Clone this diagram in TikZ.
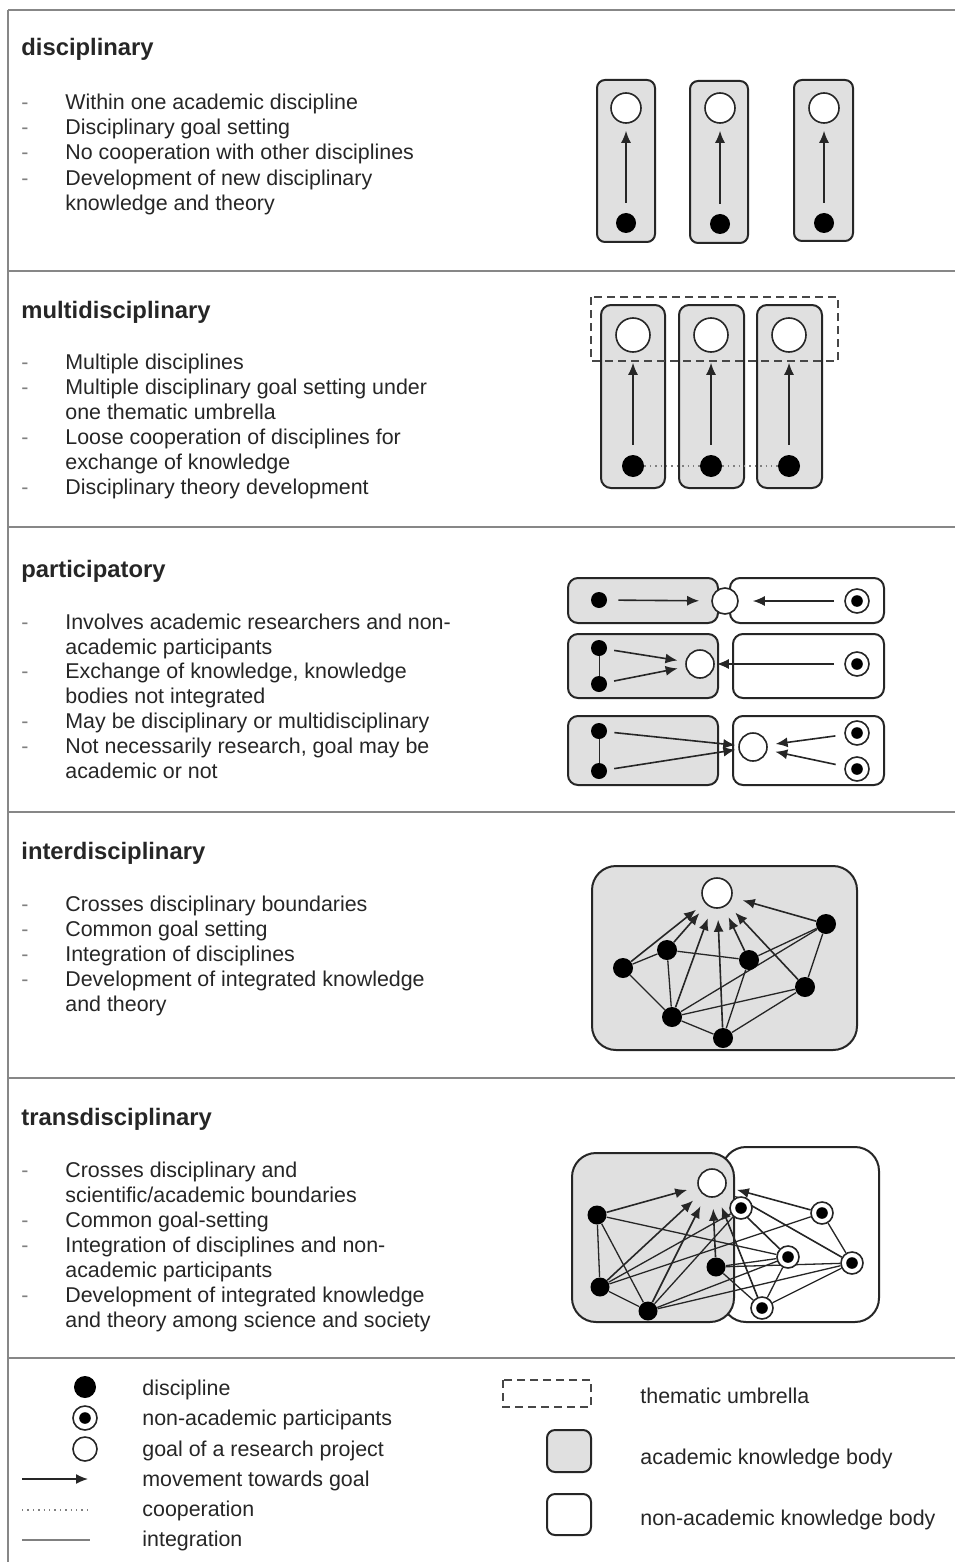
\documentclass[tikz,border=0pt]{standalone}
\usepackage{fontspec}
\setmainfont{Liberation Sans}
\usetikzlibrary{arrows.meta}
\definecolor{boxgray}{RGB}{224,224,224}
\definecolor{ink}{RGB}{38,38,38}
\definecolor{rulecol}{RGB}{135,135,135}
\pgfdeclarelayer{boxes}
\pgfdeclarelayer{edges}
\pgfsetlayers{boxes,edges,main}
\tikzset{
  txt/.style={anchor=base west, inner sep=0pt, font=\fontsize{10.7}{12.5}\selectfont, text=ink},
  ttl/.style={anchor=base west, inner sep=0pt, font=\fontsize{11.9}{14}\selectfont\bfseries, text=ink},
  dsh/.style={anchor=base west, inner sep=0pt, font=\fontsize{10.7}{12.5}\selectfont, text=gray},
  acad/.style={draw=ink, fill=boxgray, line width=1pt},
  nonacad/.style={draw=ink, fill=white, line width=1pt},
  goal/.style={circle, draw=ink, fill=white, line width=0.8pt, inner sep=0pt},
  disc/.style={circle, fill=black, inner sep=0pt},
  partic/.style={circle, draw=ink, fill=white, line width=0.8pt, inner sep=0pt,
     path picture={\fill[black] (path picture bounding box.center) circle (2.9pt);}},
  mv/.style={-{Latex[length=6pt,width=5pt]}, draw=ink, line width=0.8pt},
  integ/.style={draw=ink, line width=0.65pt},
  coop/.style={draw=gray, dotted, line width=0.7pt},
  umb/.style={draw=ink!85, dash pattern=on 4pt off 2.5pt, line width=1.1pt},
  divider/.style={draw=rulecol, line width=1pt}
}
\begin{document}
\begin{tikzpicture}[x=0.5pt, y=-0.5pt]
\useasboundingbox (0,0) rectangle (955,1562);

% ---------------- boxes ----------------
\begin{pgfonlayer}{boxes}
\fill[white] (0,0) rectangle (955,1562);
\draw[acad, rounded corners=4pt] (597,80) rectangle (655,242);
\draw[acad, rounded corners=4pt] (690,81) rectangle (748,243);
\draw[acad, rounded corners=4pt] (794,80) rectangle (853,241);

\draw[acad, rounded corners=5pt] (601,305) rectangle (665,488);
\draw[acad, rounded corners=5pt] (679,305) rectangle (744,488);
\draw[acad, rounded corners=5pt] (757,305) rectangle (822,488);

\draw[acad, rounded corners=5pt] (568,578) rectangle (718,623);
\draw[nonacad, rounded corners=5pt] (730,578) rectangle (884,623);
\draw[acad, rounded corners=5pt] (568,634) rectangle (718,698);
\draw[nonacad, rounded corners=5pt] (733,634) rectangle (884,698);
\draw[acad, rounded corners=5pt] (568,716) rectangle (718,785);
\draw[nonacad, rounded corners=5pt] (733,716) rectangle (884,785);

\draw[acad, rounded corners=12pt] (592,866) rectangle (857,1050);

\draw[nonacad, rounded corners=12pt] (722,1147) rectangle (879,1322);
\draw[acad, rounded corners=12pt] (572,1153) rectangle (734,1322);

\draw[acad, rounded corners=4pt] (547,1430) rectangle (591,1472);
\draw[nonacad, rounded corners=4pt] (547,1494) rectangle (591,1535);
\end{pgfonlayer}

% frame and dividers
\draw[divider] (8,10) -- (955,10);
\draw[divider] (8,10) -- (8,1562);
\foreach \yy in {271,527,812,1078,1358} \draw[divider] (8,\yy) -- (955,\yy);

% ---------------- texts ----------------
\node[ttl] (t1) at (21,56) {disciplinary};
\node[dsh] (s1d1) at (21,109.5) {-};
\node[txt] (s1l1) at (65,109.5) {Within one academic discipline};
\node[dsh] (s1d2) at (21,134.5) {-};
\node[txt] (s1l2) at (65,134.5) {Disciplinary goal setting};
\node[dsh] (s1d3) at (21,159.5) {-};
\node[txt] (s1l3) at (65,159.5) {No cooperation with other disciplines};
\node[dsh] (s1d4) at (21,185.5) {-};
\node[txt] (s1l4) at (65,185.5) {Development of new disciplinary};
\node[txt] (s1l5) at (65,210.5) {knowledge and theory};

\node[ttl] (t2) at (21,318) {multidisciplinary};
\node[dsh] (s2d1) at (21,369.5) {-};
\node[txt] (s2l1) at (65,369.5) {Multiple disciplines};
\node[dsh] (s2d2) at (21,394.5) {-};
\node[txt] (s2l2) at (65,394.5) {Multiple disciplinary goal setting under};
\node[txt] (s2l3) at (65,419.5) {one thematic umbrella};
\node[dsh] (s2d3) at (21,444.5) {-};
\node[txt] (s2l4) at (65,444.5) {Loose cooperation of disciplines for};
\node[txt] (s2l5) at (65,469.5) {exchange of knowledge};
\node[dsh] (s2d4) at (21,494.5) {-};
\node[txt] (s2l6) at (65,494.5) {Disciplinary theory development};

\node[ttl] (t3) at (21,577) {participatory};
\node[dsh] (s3d1) at (21,629.5) {-};
\node[txt] (s3l1) at (65,629.5) {Involves academic researchers and non-};
\node[txt] (s3l2) at (65,654.5) {academic participants};
\node[dsh] (s3d2) at (21,678.5) {-};
\node[txt] (s3l3) at (65,678.5) {Exchange of knowledge, knowledge};
\node[txt] (s3l4) at (65,703.5) {bodies not integrated};
\node[dsh] (s3d3) at (21,728.5) {-};
\node[txt] (s3l5) at (65,728.5) {May be disciplinary or multidisciplinary};
\node[dsh] (s3d4) at (21,753.5) {-};
\node[txt] (s3l6) at (65,753.5) {Not necessarily research, goal may be};
\node[txt] (s3l7) at (65,778.5) {academic or not};

\node[ttl] (t4) at (21,859) {interdisciplinary};
\node[dsh] (s4d1) at (21,911.5) {-};
\node[txt] (s4l1) at (65,911.5) {Crosses disciplinary boundaries};
\node[dsh] (s4d2) at (21,936.5) {-};
\node[txt] (s4l2) at (65,936.5) {Common goal setting};
\node[dsh] (s4d3) at (21,961.5) {-};
\node[txt] (s4l3) at (65,961.5) {Integration of disciplines};
\node[dsh] (s4d4) at (21,986.5) {-};
\node[txt] (s4l4) at (65,986.5) {Development of integrated knowledge};
\node[txt] (s4l5) at (65,1011.5) {and theory};

\node[ttl] (t5) at (21,1125) {transdisciplinary};
\node[dsh] (s5d1) at (21,1177.5) {-};
\node[txt] (s5l1) at (65,1177.5) {Crosses disciplinary and};
\node[txt] (s5l2) at (65,1202.5) {scientific/academic boundaries};
\node[dsh] (s5d2) at (21,1227.5) {-};
\node[txt] (s5l3) at (65,1227.5) {Common goal-setting};
\node[dsh] (s5d3) at (21,1252.5) {-};
\node[txt] (s5l4) at (65,1252.5) {Integration of disciplines and non-};
\node[txt] (s5l5) at (65,1277.5) {academic participants};
\node[dsh] (s5d4) at (21,1302.5) {-};
\node[txt] (s5l6) at (65,1302.5) {Development of integrated knowledge};
\node[txt] (s5l7) at (65,1327.5) {and theory among science and society};

% ---------------- disciplinary ----------------
\node[goal, minimum size=15pt] (g11) at (626,108) {};
\node[goal, minimum size=15pt] (g12) at (720,108) {};
\node[goal, minimum size=15pt] (g13) at (824,108) {};
\node[disc, minimum size=10pt] (d11) at (626,223) {};
\node[disc, minimum size=10pt] (d12) at (720,224) {};
\node[disc, minimum size=10pt] (d13) at (824,223) {};
\foreach \i in {1,2,3} \draw[mv, shorten <=5pt, shorten >=3.5pt] (d1\i) -- (g1\i);

% ---------------- multidisciplinary ----------------
\node[goal, minimum size=17pt] (g21) at (633,335) {};
\node[goal, minimum size=17pt] (g22) at (711,335) {};
\node[goal, minimum size=17pt] (g23) at (789,335) {};
\node[disc, minimum size=11pt] (d21) at (633,466) {};
\node[disc, minimum size=11pt] (d22) at (711,466) {};
\node[disc, minimum size=11pt] (d23) at (789,466) {};
\begin{pgfonlayer}{edges}
\foreach \i in {1,2,3} \draw[mv, shorten <=5pt, shorten >=5pt] (d2\i) -- (g2\i);
\draw[coop] (d21) -- (d22);
\draw[coop] (d22) -- (d23);
\draw[umb] (591,297) rectangle (838,361);
\end{pgfonlayer}

% ---------------- participatory ----------------
\node[goal, minimum size=13pt] (g31) at (725,601) {};
\node[disc, minimum size=8pt] (d31) at (599,600) {};
\node[partic, minimum size=12pt] (p31) at (857,601) {};
\draw[mv, shorten <=5.5pt, shorten >=6pt] (d31) -- (g31);
\draw[mv, shorten <=5pt, shorten >=7pt] (p31) -- (g31);

\node[goal, minimum size=14pt] (g32) at (700,664) {};
\node[disc, minimum size=8pt] (d32) at (599,648) {};
\node[disc, minimum size=8pt] (d33) at (599,684) {};
\node[partic, minimum size=12pt] (p32) at (857,664) {};
\draw[integ, line width=0.4pt] (d32) -- (d33);
\draw[mv, shorten <=3.5pt, shorten >=4pt] (d32) -- (g32);
\draw[mv, shorten <=3.5pt, shorten >=4pt] (d33) -- (g32);
\draw[mv, shorten <=5pt, shorten >=1pt] (p32) -- (g32);

\node[goal, minimum size=14pt] (g33) at (753,747) {};
\node[disc, minimum size=8pt] (d34) at (599,731) {};
\node[disc, minimum size=8pt] (d35) at (599,771) {};
\node[partic, minimum size=12pt] (p33) at (857,733) {};
\node[partic, minimum size=12pt] (p34) at (857,769) {};
\draw[integ, line width=0.4pt] (d34) -- (d35);
\draw[mv, shorten <=3.5pt, shorten >=1.5pt] (d34) -- (g33);
\draw[mv, shorten <=3.5pt, shorten >=1.5pt] (d35) -- (g33);
\draw[mv, shorten <=4.5pt, shorten >=4pt] (p33) -- (g33);
\draw[mv, shorten <=4.5pt, shorten >=4pt] (p34) -- (g33);

% ---------------- interdisciplinary ----------------
\node[goal, minimum size=15pt] (g4) at (717,893) {};
\node[disc, minimum size=10pt] (a4) at (623,968) {};
\node[disc, minimum size=10pt] (b4) at (667,950) {};
\node[disc, minimum size=10pt] (c4) at (749,960) {};
\node[disc, minimum size=10pt] (dd4) at (826,924) {};
\node[disc, minimum size=10pt] (e4) at (805,987) {};
\node[disc, minimum size=10pt] (f4) at (672,1017) {};
\node[disc, minimum size=10pt] (h4) at (723,1038) {};
\begin{pgfonlayer}{edges}
\foreach \n in {a4,b4,c4,dd4,e4,f4,h4} \draw[mv, shorten >=5.5pt] (\n) -- (g4);
\foreach \u/\v in {a4/b4,a4/f4,b4/c4,b4/f4,c4/dd4,c4/h4,dd4/e4,dd4/f4,e4/f4,e4/h4,f4/h4}
  \draw[integ] (\u) -- (\v);
\end{pgfonlayer}

% ---------------- transdisciplinary ----------------
\node[goal, minimum size=14pt] (g5) at (712,1183) {};
\node[disc, minimum size=9.5pt] (p51) at (597,1215) {};
\node[disc, minimum size=9.5pt] (p52) at (600,1287) {};
\node[disc, minimum size=9.5pt] (p53) at (648,1311) {};
\node[disc, minimum size=9.5pt] (p54) at (716,1267) {};
\node[partic, minimum size=11pt] (q51) at (741,1208) {};
\node[partic, minimum size=11pt] (q52) at (822,1213) {};
\node[partic, minimum size=11pt] (q53) at (788,1257) {};
\node[partic, minimum size=11pt] (q54) at (852,1263) {};
\node[partic, minimum size=11pt] (q55) at (762,1308) {};
\begin{pgfonlayer}{edges}
\foreach \n in {p51,p52,p53,p54,q55,q53,q54,q52} \draw[mv, shorten >=5.5pt] (\n) -- (g5);
\foreach \u/\v in {p51/p52,p51/p53,p51/q53,p52/p53,p52/q51,p52/q52,p53/q51,p53/q53,p53/q54,
                   p54/q53,p54/q54,p54/q55,q52/q54,q53/q55,q54/q55}
  \draw[integ] (\u) -- (\v);
\end{pgfonlayer}

% ---------------- legend ----------------
\node[disc, minimum size=11pt] (ld) at (85,1387) {};
\node[partic, minimum size=12pt] (lp) at (85,1418) {};
\node[goal, minimum size=12pt] (lg) at (85,1449) {};
\coordinate (la1) at (22,1479);
\coordinate (la2) at (88,1479);
\coordinate (lc1) at (22,1510);
\coordinate (lc2) at (88,1510);
\coordinate (li1) at (22,1540);
\coordinate (li2) at (90,1540);
\draw[mv] (la1) -- (la2);
\draw[coop] (lc1) -- (lc2);
\draw[draw=gray, line width=0.6pt] (li1) -- (li2);

\node[txt] (lt1) at (142,1395.5) {discipline};
\node[txt] (lt2) at (142,1425.5) {non-academic participants};
\node[txt] (lt3) at (142,1456.5) {goal of a research project};
\node[txt] (lt4) at (142,1486.5) {movement towards goal};
\node[txt] (lt5) at (142,1516.5) {cooperation};
\node[txt] (lt6) at (142,1546.5) {integration};

\draw[umb] (503,1380) rectangle (591,1407);
\node[txt] (lt7) at (640,1403.5) {thematic umbrella};
\node[txt] (lt8) at (640,1464.5) {academic knowledge body};
\node[txt] (lt9) at (640,1525.5) {non-academic knowledge body};
\end{tikzpicture}
\end{document}
